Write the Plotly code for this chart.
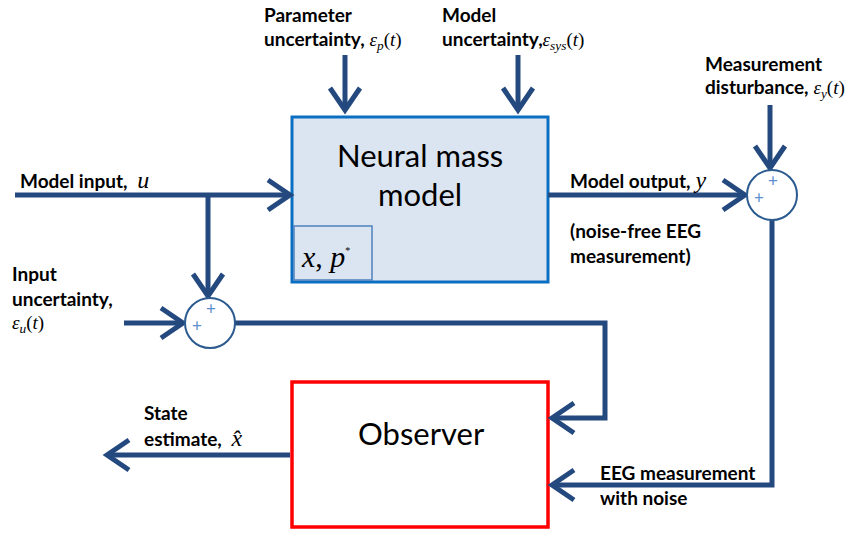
import plotly.graph_objects as go

# diagram geometry in pixel units (x right, y down)
model_box = [292, 117, 548, 282]
param_box = [294, 226, 372, 280]
observer_box = [292, 382, 548, 527]
sum_circles = [(210, 323), (772, 195)]
circle_r = 25

# connector paths, arrow tip at the last point
paths = [
    [(15, 195), (290, 195)],                  # model input
    [(208, 195), (208, 296)],                 # branch to input summer
    [(124, 323), (183, 323)],                 # input uncertainty
    [(235, 323), (605, 323), (605, 418), (552, 418)],  # to observer
    [(345, 55), (345, 110)],                  # parameter uncertainty
    [(518, 55), (518, 110)],                  # model uncertainty
    [(548, 195), (745, 195)],                 # model output
    [(770, 105), (770, 168)],                 # measurement disturbance
    [(772, 220), (772, 485), (552, 485)],     # EEG measurement with noise
    [(290, 455), (107, 455)],                 # state estimate
]

SERIF = "<span style='font-family:Liberation Serif;font-size:19px'>"
labels = [
    (262, 14, "<b>Parameter</b>"),
    (262, 40, "<b>uncertainty,</b> " + SERIF + "<i>ε<sub>p</sub></i>(<i>t</i>)</span>"),
    (440, 14, "<b>Model</b>"),
    (440, 40, "<b>uncertainty,</b>" + SERIF + "<i>ε<sub>sys</sub></i>(<i>t</i>)</span>"),
    (703, 63, "<b>Measurement</b>"),
    (703, 88, "<b>disturbance,</b> " + SERIF + "<i>ε<sub>y</sub></i>(<i>t</i>)</span>"),
    (18, 180, "<b>Model input,</b>  <span style='font-family:Liberation Serif;font-size:24px'><i>u</i></span>"),
    (568, 180, "<b>Model output,</b> <span style='font-family:Liberation Serif;font-size:24px'><i>y</i></span>"),
    (568, 230, "<b>(noise-free EEG</b>"),
    (568, 255, "<b>measurement)</b>"),
    (10, 273, "<b>Input</b>"),
    (10, 298, "<b>uncertainty,</b>"),
    (10, 324, SERIF + "<i>ε<sub>u</sub></i>(<i>t</i>)</span>"),
    (142, 412, "<b>State</b>"),
    (142, 438, "<b>estimate,</b>  <span style='font-family:Liberation Serif;font-size:24px'><i>x̂</i></span>"),
    (598, 472, "<b>EEG measurement</b>"),
    (598, 497, "<b>with noise</b>"),
]

arrow_col = "#24497f"
head_len, head_half = 22, 15

fig = go.Figure()

for pts in paths:
    xs = [p[0] for p in pts]
    ys = [p[1] for p in pts]
    fig.add_trace(go.Scatter(x=xs, y=ys, mode="lines", line=dict(color=arrow_col, width=5),
                             hoverinfo="skip", showlegend=False))
    (x0, y0), (x1, y1) = pts[-2], pts[-1]
    dx, dy = x1 - x0, y1 - y0
    n = (dx ** 2 + dy ** 2) ** 0.5
    ux, uy = dx / n, dy / n
    bx, by = x1 - ux * head_len, y1 - uy * head_len
    px, py = -uy * head_half, ux * head_half
    fig.add_trace(go.Scatter(x=[bx + px, x1, bx - px], y=[by + py, y1, by - py], mode="lines",
                             line=dict(color=arrow_col, width=5), hoverinfo="skip", showlegend=False))

# blocks
fig.add_shape(type="rect", x0=model_box[0], y0=model_box[1], x1=model_box[2], y1=model_box[3],
              line=dict(color="#0a6fc2", width=3), fillcolor="#dbe5f1", layer="below")
fig.add_shape(type="rect", x0=param_box[0], y0=param_box[1], x1=param_box[2], y1=param_box[3],
              line=dict(color="#4f81bd", width=1.5), fillcolor="#dbe5f1")
fig.add_shape(type="rect", x0=observer_box[0], y0=observer_box[1], x1=observer_box[2], y1=observer_box[3],
              line=dict(color="#ff0000", width=3.5), fillcolor="white", layer="below")

for cx, cy in sum_circles:
    fig.add_shape(type="circle", x0=cx - circle_r, y0=cy - circle_r, x1=cx + circle_r, y1=cy + circle_r,
                  line=dict(color="#2b5a8f", width=2), fillcolor="white")
    fig.add_annotation(x=cx + 1, y=cy - 15, text="+", showarrow=False,
                       font=dict(size=17, color="#5b8fd0", family="Lato"))
    fig.add_annotation(x=cx - 13, y=cy + 2, text="+", showarrow=False,
                       font=dict(size=17, color="#5b8fd0", family="Lato"))

fig.add_annotation(x=420, y=155, text="Neural mass", showarrow=False,
                   font=dict(size=31, color="black", family="Lato"))
fig.add_annotation(x=420, y=194, text="model", showarrow=False,
                   font=dict(size=31, color="black", family="Lato"))
fig.add_annotation(x=421, y=433, text="Observer", showarrow=False,
                   font=dict(size=31, color="black", family="Lato"))
fig.add_annotation(x=299, y=256, xanchor="left",
                   text="<i>x</i>, <i>p</i><sup><span style='font-size:10px'>*</span></sup>", showarrow=False,
                   font=dict(size=30, color="black", family="Liberation Serif"))

for x, y, t in labels:
    fig.add_annotation(x=x, y=y, text=t, xanchor="left", yanchor="middle", showarrow=False,
                       font=dict(size=19, color="black", family="Lato"))

fig.update_xaxes(range=[0, 857], visible=False, fixedrange=True)
fig.update_yaxes(range=[536, 0], visible=False, fixedrange=True)
fig.update_layout(width=857, height=536, margin=dict(l=0, r=0, t=0, b=0),
                  plot_bgcolor="white", paper_bgcolor="white")
fig.write_html("out.html", config={"displayModeBar": False},
               post_script="document.body.style.margin='0';")
